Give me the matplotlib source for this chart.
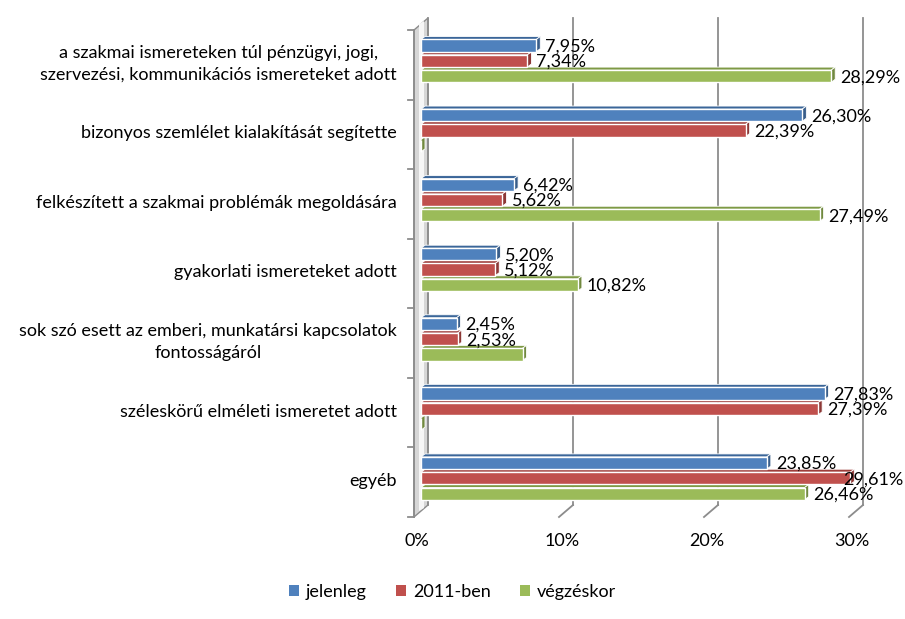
import matplotlib
matplotlib.use('Agg')
import matplotlib.pyplot as plt
from matplotlib.patches import Polygon
from matplotlib.transforms import IdentityTransform
from matplotlib.lines import Line2D
from matplotlib.patches import Patch

categories = [
    "a szakmai ismereteken túl pénzügyi, jogi,\nszervezési, kommunikációs ismereteket adott",
    "bizonyos szemlélet kialakítását segítette",
    "felkészített a szakmai problémák megoldására",
    "gyakorlati ismereteket adott",
    "sok szó esett az emberi, munkatársi kapcsolatok\nfontosságáról",
    "széleskörű elméleti ismeretet adott",
    "egyéb",
]
series_names = ["jelenleg", "2011-ben", "végzéskor"]
jelenleg = [7.95, 26.30, 6.42, 5.20, 2.45, 27.83, 23.85]
ben2011 = [7.34, 22.39, 5.62, 5.12, 2.53, 27.39, 29.61]
vegzeskor = [28.29, 0.0, 27.49, 10.82, 7.0, 0.0, 26.46]
show_jel = [True] * 7
show_ben = [True] * 7
show_veg = [True, False, True, True, False, False, True]
xticks = [0, 10, 20, 30]
xticklabels = ["0%", "10%", "20%", "30%"]

face_cols = ["#4F81BD", "#C0504D", "#9BBB59"]
side_cols = ["#385D8A", "#8C3836", "#71893F"]
top_cols = ["#3B6699", "#9E3E3B", "#7E9A45"]

FONT = "Lato"
FS = 13
plt.rcParams['font.family'] = [FONT, 'DejaVu Sans']

fig = plt.figure(figsize=(9.05, 6.19), dpi=100)
ax = fig.add_axes([421 / 905, 1 - 511 / 619, (856 - 421) / 905, (511 - 24) / 619])
ax.set_xlim(0, 30)
ax.set_ylim(7, 0)
ax.axis('off')

T = ax.transData
ID = IdentityTransform()

def px(x, y):
    return T.transform((x, y))

FRONT = (-7, -6)
BACK = (7, 6)
grid_col = "#8C8C8C"

# left wall
b0 = px(0, 7); t0 = px(0, 0)
wall = [(b0[0] + FRONT[0], b0[1] + FRONT[1]), (t0[0] + FRONT[0], t0[1] + FRONT[1]),
        (t0[0] + BACK[0], t0[1] + BACK[1]), (b0[0] + BACK[0], b0[1] + BACK[1])]
ax.add_patch(Polygon(wall, closed=True, transform=ID, facecolor="#D6D6D6",
                     edgecolor=grid_col, lw=1.0, clip_on=False, zorder=1))
wall2 = [(b0[0] - 2, b0[1]), (t0[0] - 2, t0[1]), (t0[0] + 3, t0[1] + 3), (b0[0] + 3, b0[1] + 3)]
ax.add_patch(Polygon(wall2, closed=True, transform=ID, facecolor="#F6F6F6",
                     edgecolor='none', clip_on=False, zorder=1))

# back gridlines and floor diagonals
for xv, xl in zip(xticks, xticklabels):
    b = px(xv, 7); t = px(xv, 0)
    ax.add_line(Line2D([b[0] + BACK[0], t[0] + BACK[0]], [b[1] + BACK[1], t[1] + BACK[1]],
                       transform=ID, color=grid_col, lw=1.3, clip_on=False, zorder=1))
    if xv > 0:
        ax.add_line(Line2D([b[0] + FRONT[0], b[0] + BACK[0]], [b[1] + FRONT[1], b[1] + BACK[1]],
                           transform=ID, color=grid_col, lw=1.3, clip_on=False, zorder=1))
    ax.text(b[0] + FRONT[0] + 3, b[1] + FRONT[1] - 24, xl,
            transform=ID, ha='center', va='center', fontsize=FS, color="#000000")

# front left axis line and ticks
ax.add_line(Line2D([b0[0] + FRONT[0], t0[0] + FRONT[0]], [b0[1] + FRONT[1], t0[1] + FRONT[1]],
                   transform=ID, color=grid_col, lw=1.3, clip_on=False, zorder=1))
for k in range(8):
    p = px(0, k)
    ax.add_line(Line2D([p[0] + FRONT[0] - 6, p[0] + FRONT[0]], [p[1] + FRONT[1], p[1] + FRONT[1]],
                       transform=ID, color=grid_col, lw=1.3, clip_on=False, zorder=1))

# bars
series = [jelenleg, ben2011, vegzeskor]
shows = [show_jel, show_ben, show_veg]
offs = [-0.22, 0.0, 0.22]
bh = 0.175
DX, DY = 4, 3
labels = []
z = 2
for i in range(6, -1, -1):
    for s in (2, 1, 0):
        w = series[s][i]
        yc = i + 0.5 + offs[s] + 0.03
        x0, ytop = px(0, yc - bh / 2)
        x1, ybot = px(w, yc + bh / 2)
        front = [(x0, ybot), (x1, ybot), (x1, ytop), (x0, ytop)]
        top = [(x0, ytop), (x1, ytop), (x1 + DX, ytop + DY), (x0 + DX, ytop + DY)]
        side = [(x1, ybot), (x1 + DX, ybot + DY), (x1 + DX, ytop + DY), (x1, ytop)]
        ax.add_patch(Polygon(top, closed=True, transform=ID, facecolor=top_cols[s],
                             edgecolor='white', lw=0.6, clip_on=False, zorder=z))
        ax.add_patch(Polygon(side, closed=True, transform=ID, facecolor=side_cols[s],
                             edgecolor='white', lw=0.6, clip_on=False, zorder=z))
        ax.add_patch(Polygon(front, closed=True, transform=ID, facecolor=face_cols[s],
                             edgecolor='white', lw=1.0, clip_on=False, zorder=z + 0.1))
        z += 0.2
        if shows[s][i]:
            labels.append((x1 + DX + 5, (ytop + ybot) / 2 - 1,
                           ("%.2f%%" % w).replace('.', ',')))

renderer = fig.canvas.get_renderer()
for (xl, yl, s) in labels:
    t = ax.text(xl, yl, s, transform=ID, ha='left', va='center', fontsize=FS,
                color='black', zorder=50)
    ext = t.get_window_extent(renderer)
    if ext.x1 > 903:
        t.set_x(xl - (ext.x1 - 903))

# category labels
for i, c in enumerate(categories):
    p = px(0, i + 0.5)
    ax.text(p[0] - 24, p[1] - 5, c, transform=ID, ha='right', va='center',
            multialignment='center', fontsize=FS, linespacing=1.5, color='black')

handles = [Patch(facecolor=face_cols[k], edgecolor='none') for k in range(3)]
fig.legend(handles, series_names, loc='center', bbox_to_anchor=(0.5, 1 - 592 / 619),
           ncol=3, frameon=False, fontsize=FS, handlelength=0.55, handleheight=0.55,
           handletextpad=0.4, columnspacing=1.6)

fig.savefig("out.png", dpi=100)
